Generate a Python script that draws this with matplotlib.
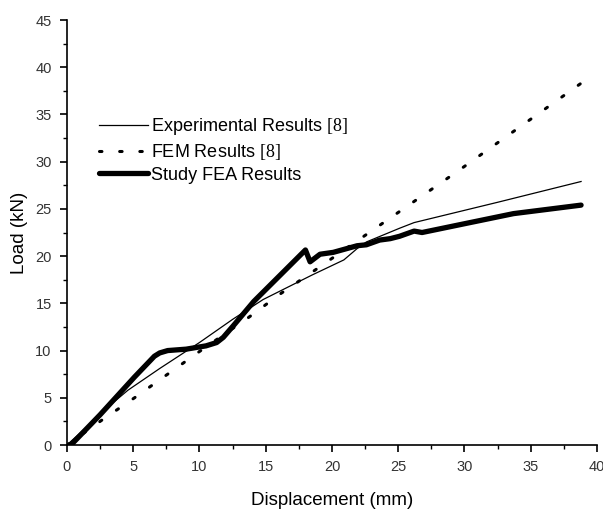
import numpy as np
import matplotlib
matplotlib.use("Agg")
import matplotlib.pyplot as plt
from matplotlib.ticker import MultipleLocator

plt.rcParams['font.family'] = ['Liberation Sans', 'DejaVu Sans']
plt.rcParams['mathtext.fontset'] = 'custom'
plt.rcParams['mathtext.rm'] = 'Liberation Serif'

# Experimental Results [8]
exp_x = [0, 3.5, 4.6, 7.0, 10.0, 12.5, 14.8, 18.5, 20.9, 21.9, 22.6, 25.1, 26.2, 32.5, 38.8]
exp_y = [0, 4.5, 5.8, 8.1, 10.85, 13.3, 15.4, 18.0, 19.6, 20.8, 21.5, 22.95, 23.55, 25.7, 27.9]

# FEM Results [8]
fem_x = [0, 2.6, 5.1, 10.0, 13.7, 16.1, 18.5, 22.2, 25.9, 29.6, 33.2, 36.9, 39.3]
fem_y = [0, 2.6, 5.0, 9.9, 13.5, 16.0, 18.3, 21.9, 25.5, 29.1, 32.7, 36.4, 38.8]

# Study FEA Results
fea_x = [0.3, 2.5, 5.1, 6.6, 7.0, 7.6, 9.0, 10.5, 11.3, 11.8, 12.6, 14.1, 18.0, 18.35, 19.1, 20.1,
         21.9, 22.6, 23.6, 24.4, 25.1, 26.2, 26.8, 29.9, 33.7, 38.8]
fea_y = [0.0, 3.2, 7.2, 9.4, 9.75, 10.0, 10.15, 10.5, 10.85, 11.4, 12.7, 15.2, 20.65, 19.4, 20.2, 20.4,
         21.1, 21.2, 21.7, 21.85, 22.1, 22.65, 22.5, 23.4, 24.5, 25.4]

fig = plt.figure(figsize=(6.03, 5.09), dpi=100)
ax = fig.add_axes([0.111, 0.1257, 0.879, 0.835])

ax.plot(exp_x, exp_y, color='black', lw=0.9, label=r'Experimental Results $\mathrm{[8]}$')
ax.plot(fem_x, fem_y, color='black', lw=2.2, dashes=(0.8, 5.8), dash_capstyle='round',
        label=r'FEM Results $\mathrm{[8]}$')
ax.plot(fea_x, fea_y, color='black', lw=3.8, solid_capstyle='round', solid_joinstyle='round',
        label='Study FEA Results')

ax.set_xlim(0, 40)
ax.set_ylim(0, 45)
ax.xaxis.set_major_locator(MultipleLocator(5))
ax.xaxis.set_minor_locator(MultipleLocator(2.5))
ax.yaxis.set_major_locator(MultipleLocator(5))
ax.yaxis.set_minor_locator(MultipleLocator(2.5))

for s in ['top', 'right']:
    ax.spines[s].set_visible(False)
for s in ['left', 'bottom']:
    ax.spines[s].set_linewidth(1.2)

ax.tick_params(which='major', direction='out', length=5, width=1.2, labelsize=10.5,
               labelcolor='#333333', pad=6)
ax.tick_params(which='minor', direction='out', length=3, width=1.0)

ax.set_xlabel('Displacement (mm)', fontsize=13.5, labelpad=13)
ax.set_ylabel('Load (kN)', fontsize=13.5, labelpad=5)

ax.legend(loc='upper left', bbox_to_anchor=(0.06, 0.773), frameon=False, fontsize=13,
          handlelength=2.75, handletextpad=0.12, labelspacing=0.25, borderpad=0, borderaxespad=0)

plt.savefig('out.png', dpi=100)
